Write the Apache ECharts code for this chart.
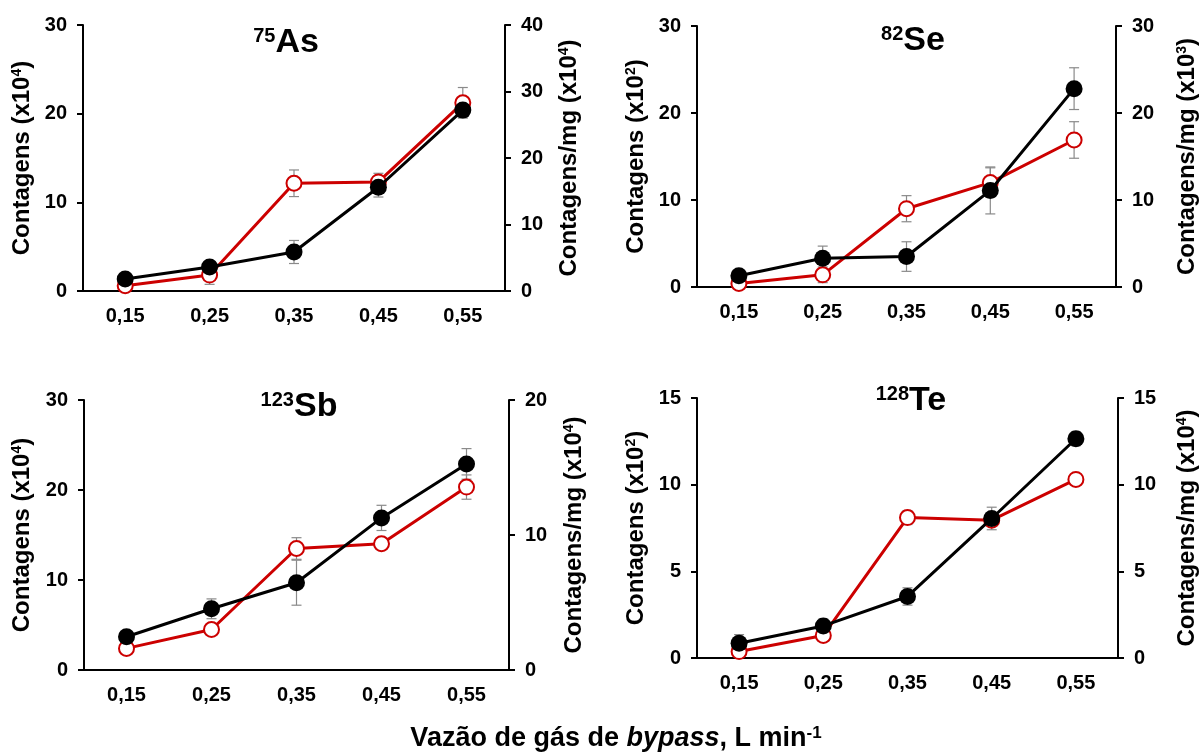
<!DOCTYPE html>
<html>
<head>
<meta charset="utf-8">
<script src="https://cdn.jsdelivr.net/npm/echarts@6/dist/echarts.min.js"></script>
<style>html,body{margin:0;padding:0;background:#fff;}#c{width:1200px;height:755px;}</style>
</head>
<body>
<div id="c"></div>
<script>
var categories = ['0,15', '0,25', '0,35', '0,45', '0,55'];

// 75As
var asCounts = [1.35, 2.7, 4.4, 11.7, 20.4];
var asCountsErr = [0.3, 0.4, 1.3, 1.1, 0.8];
var asPerMg = [0.8, 2.4, 16.2, 16.4, 28.3];
var asPerMgErr = [0.5, 1.4, 2.0, 1.3, 2.3];
// 82Se
var seCounts = [1.3, 3.3, 3.5, 11.1, 22.8];
var seCountsErr = [0.4, 1.4, 1.7, 2.7, 2.4];
var sePerMg = [0.4, 1.4, 9.0, 12.0, 16.9];
var sePerMgErr = [0.3, 0.9, 1.5, 1.7, 2.1];
// 123Sb
var sbCounts = [3.7, 6.8, 9.7, 16.9, 22.9];
var sbCountsErr = [0.4, 1.1, 2.5, 1.4, 1.7];
var sbPerMg = [1.6, 3.0, 9.0, 9.35, 13.55];
var sbPerMgErr = [0.2, 0.3, 0.8, 0.3, 0.9];
// 128Te
var teCounts = [0.85, 1.85, 3.55, 8.05, 12.65];
var teCountsErr = [0.5, 0.4, 0.5, 0.65, 0.4];
var tePerMg = [0.37, 1.3, 8.1, 7.95, 10.3];
var tePerMgErr = [0.2, 0.2, 0.4, 0.3, 0.2];

// axis ranges: [leftMax, leftInterval, rightMax, rightInterval]
var axisRanges = [[30, 10, 40, 10], [30, 10, 30, 10], [30, 10, 20, 10], [15, 5, 15, 5]];
var leftNames = ['4', '2', '4', '2'];
var rightNames = ['4', '3', '4', '4'];
var titles = [['75', 'As'], ['82', 'Se'], ['123', 'Sb'], ['128', 'Te']];

var FONT = '"Liberation Sans", Arial, sans-serif';
var panels = [
  {counts: asCounts, cErr: asCountsErr, perMg: asPerMg, pErr: asPerMgErr},
  {counts: seCounts, cErr: seCountsErr, perMg: sePerMg, pErr: sePerMgErr},
  {counts: sbCounts, cErr: sbCountsErr, perMg: sbPerMg, pErr: sbPerMgErr},
  {counts: teCounts, cErr: teCountsErr, perMg: tePerMg, pErr: tePerMgErr}
];
var grids = [
  {left: 83, right: 695, top: 25, height: 266},
  {left: 697, right: 81, top: 26, height: 261},
  {left: 84, right: 691, top: 400, height: 270},
  {left: 697, right: 81, top: 398, height: 260}
];
var leftGaps = [49, 49, 50, 49];
var rightGaps = [52, 59, 53, 57];
var titlePos = [[281, 21], [908, 19], [294, 385], [906, 379]];

var nameRich = {
  n: {fontSize: 24, fontWeight: 'bold', color: '#000', fontFamily: FONT},
  s: {fontSize: 14, fontWeight: 'bold', color: '#000', fontFamily: FONT, verticalAlign: 'top', padding: [0, 0, 10, 0]}
};

function errSeries(vals, errs, xi, yi) {
  var data = vals.map(function (v, i) { return [i, v, errs[i]]; });
  return {
    type: 'custom', xAxisIndex: xi, yAxisIndex: yi, z: 1, silent: true,
    data: data,
    encode: {x: 0, y: 1},
    renderItem: function (params, api) {
      var x = api.value(0), y = api.value(1), e = api.value(2);
      var hi = api.coord([x, y + e]);
      var lo = api.coord([x, y - e]);
      var w = 5;
      var st = {stroke: '#8a8a8a', lineWidth: 1.2};
      return {type: 'group', children: [
        {type: 'line', shape: {x1: hi[0], y1: hi[1], x2: lo[0], y2: lo[1]}, style: st},
        {type: 'line', shape: {x1: hi[0] - w, y1: hi[1], x2: hi[0] + w, y2: hi[1]}, style: st},
        {type: 'line', shape: {x1: lo[0] - w, y1: lo[1], x2: lo[0] + w, y2: lo[1]}, style: st}
      ]};
    }
  };
}

var xAxes = [], yAxes = [], series = [], titleArr = [];
panels.forEach(function (p, k) {
  var r = axisRanges[k];
  xAxes.push({
    type: 'category', gridIndex: k, data: categories, boundaryGap: true,
    axisLine: {lineStyle: {color: '#000', width: 2}},
    axisTick: {alignWithLabel: true, length: 5, lineStyle: {color: '#000', width: 2}},
    axisLabel: {color: '#000', fontSize: 20, fontWeight: 'bold', fontFamily: FONT, margin: 15},
    splitLine: {show: false}
  });
  var yCommon = {
    type: 'value', gridIndex: k, min: 0,
    axisLine: {show: true, lineStyle: {color: '#000', width: 2}},
    axisTick: {show: true, length: 6, lineStyle: {color: '#000', width: 2}},
    axisLabel: {color: '#000', fontSize: 20, fontWeight: 'bold', fontFamily: FONT, margin: 16},
    splitLine: {show: false},
    nameLocation: 'middle', nameRotate: 90,
    nameTextStyle: {rich: nameRich}
  };
  yAxes.push(Object.assign({}, yCommon, {
    position: 'left', max: r[0], interval: r[1],
    name: '{n|Contagens (x10}{s|' + leftNames[k] + '}{n|)}', nameGap: leftGaps[k]
  }));
  yAxes.push(Object.assign({}, yCommon, {
    position: 'right', max: r[2], interval: r[3],
    name: '{n|Contagens/mg (x10}{s|' + rightNames[k] + '}{n|)}', nameGap: rightGaps[k]
  }));
  var yl = 2 * k, yr = 2 * k + 1;
  series.push(errSeries(p.perMg, p.pErr, k, yr));
  series.push(errSeries(p.counts, p.cErr, k, yl));
  series.push({
    type: 'line', xAxisIndex: k, yAxisIndex: yr, data: p.perMg, z: 3,
    symbol: 'circle', symbolSize: 15, showAllSymbol: true,
    lineStyle: {color: '#cc0000', width: 3},
    itemStyle: {color: '#ffffff', borderColor: '#cc0000', borderWidth: 2},
    emphasis: {disabled: true}, animation: false
  });
  series.push({
    type: 'line', xAxisIndex: k, yAxisIndex: yl, data: p.counts, z: 4,
    symbol: 'circle', symbolSize: 17, showAllSymbol: true,
    lineStyle: {color: '#000000', width: 3},
    itemStyle: {color: '#000000'},
    emphasis: {disabled: true}, animation: false
  });
  titleArr.push({
    text: '{s|' + titles[k][0] + '}{b|' + titles[k][1] + '}',
    left: titlePos[k][0], top: titlePos[k][1], textAlign: 'center',
    textStyle: {rich: {
      s: {fontSize: 20, fontWeight: 'bold', color: '#000', fontFamily: FONT, verticalAlign: 'top', padding: [0, 0, 12, 0]},
      b: {fontSize: 34, fontWeight: 'bold', color: '#000', fontFamily: FONT}
    }}
  });
});
titleArr.push({
  text: '{a|Vazão de gás de }{i|bypass}{a|, L min}{s|-1}',
  left: 611, top: 720, textAlign: 'center',
  textStyle: {rich: {
    a: {fontSize: 27, fontWeight: 'bold', color: '#000', fontFamily: FONT},
    i: {fontSize: 27, fontWeight: 'bold', fontStyle: 'italic', color: '#000', fontFamily: FONT},
    s: {fontSize: 17, fontWeight: 'bold', color: '#000', fontFamily: FONT, verticalAlign: 'top', padding: [0, 0, 10, 0]}
  }}
});

var chart = echarts.init(document.getElementById('c'), null, {renderer: 'canvas'});
chart.setOption({
  animation: false,
  backgroundColor: '#fff',
  title: titleArr,
  grid: grids,
  xAxis: xAxes,
  yAxis: yAxes,
  series: series
});
</script>
</body>
</html>
